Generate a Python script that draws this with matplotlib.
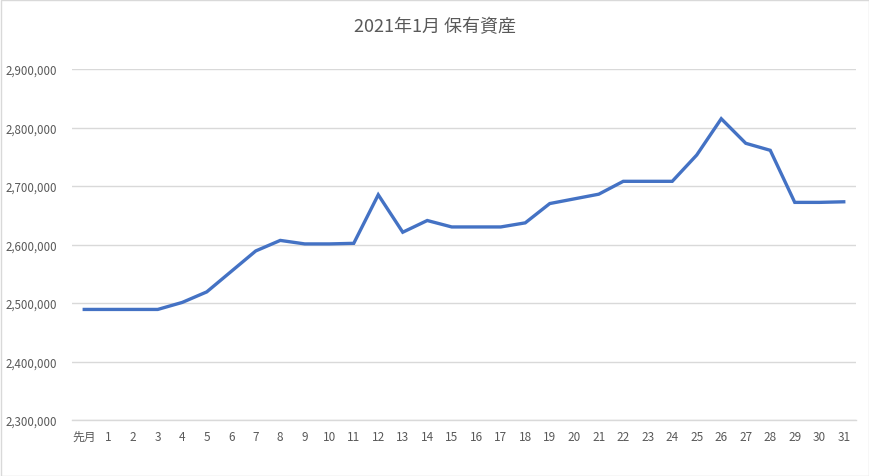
import matplotlib
matplotlib.use("Agg")
import matplotlib.pyplot as plt
from matplotlib.ticker import FuncFormatter
from matplotlib.patches import Rectangle

plt.rcParams['font.family'] = ['Noto Sans CJK JP', 'DejaVu Sans']

# 日付ラベル (先月 + 1〜31日)
days = ['先月'] + [str(d) for d in range(1, 32)]

# 保有資産 (円) - グラフから読み取り
assets = [
    2489000, 2489000, 2489000, 2489000, 2501000, 2519000, 2554000, 2589000,
    2607000, 2601000, 2601000, 2602000, 2685000, 2621000, 2641000, 2630000,
    2630000, 2630000, 2637000, 2670000, 2678000, 2686000, 2708000, 2708000,
    2708000, 2753000, 2815000, 2773000, 2761000, 2672000, 2672000, 2673000,
]

y_ticks = [2300000, 2400000, 2500000, 2600000, 2700000, 2800000, 2900000]

text_color = '#595959'
grid_color = '#d9d9d9'
line_color = '#4472C4'

fig = plt.figure(figsize=(8.7, 4.77), dpi=100)
ax = fig.add_axes([72 / 870, 1 - 421 / 477, 784 / 870, 351 / 477])

x = list(range(len(days)))
ax.plot(x, assets, color=line_color, linewidth=2.4, solid_joinstyle='miter', zorder=3)

ax.set_xlim(-0.5, len(days) - 0.5)
ax.set_ylim(y_ticks[0], y_ticks[-1])
ax.set_yticks(y_ticks)
ax.yaxis.set_major_formatter(FuncFormatter(lambda v, p: f'{int(v):,}'))
ax.set_xticks(x)
ax.set_xticklabels(days)

ax.grid(axis='y', color=grid_color, linewidth=1)
ax.set_axisbelow(True)
for s in ['top', 'right', 'left']:
    ax.spines[s].set_visible(False)
ax.spines['bottom'].set_color(grid_color)
ax.spines['bottom'].set_linewidth(1)

ax.tick_params(axis='y', length=0, pad=11, labelsize=8.3, labelcolor=text_color)
ax.tick_params(axis='x', length=0, pad=7, labelsize=8.5, labelcolor=text_color)

fig.text(0.5, 1 - 27 / 477, '2021年1月 保有資産', ha='center', va='center',
         fontsize=13, color=text_color)

# チャート外枠
fig.patches.append(Rectangle((0.5 / 870, 0.5 / 477), 869 / 870, 476 / 477,
                             transform=fig.transFigure, fill=False,
                             edgecolor=grid_color, linewidth=1))

fig.savefig('out.png', dpi=100)
